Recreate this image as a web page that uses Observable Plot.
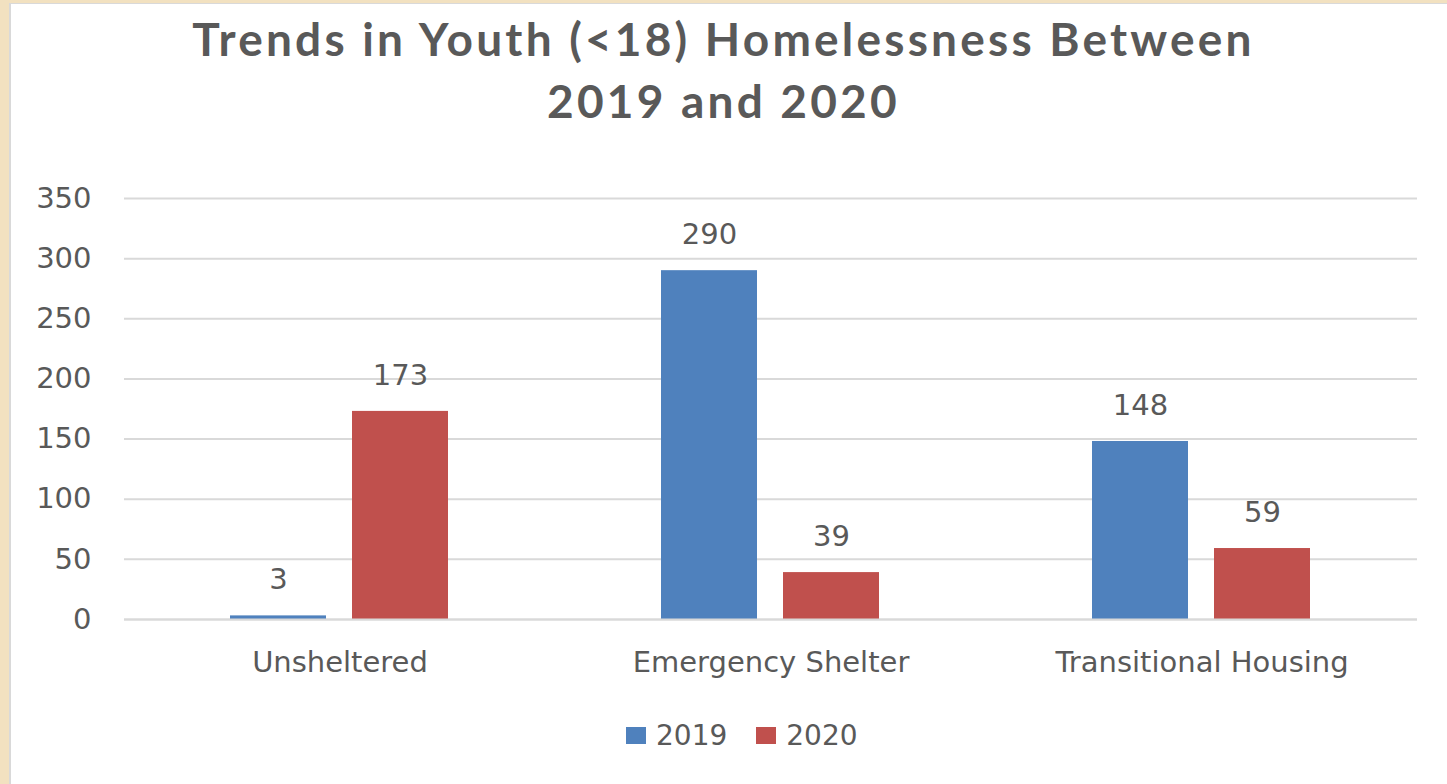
<!DOCTYPE html>
<html>
<head>
<meta charset="utf-8">
<script src="https://cdn.jsdelivr.net/npm/d3@7"></script>
<script src="https://cdn.jsdelivr.net/npm/@observablehq/plot@0.6"></script>
<style>
  html, body { margin: 0; padding: 0; width: 1447px; height: 784px; overflow: hidden; background: #f2e1c0; }
  #panel { position: absolute; left: 9px; top: 3px; width: 1438px; height: 781px; background: #fff;
           border-left: 2px solid #d9d9d9; border-top: 1px solid #d9d9d9; box-sizing: border-box; }
  #title { position: absolute; left: 0; top: 0; width: 1447px; text-align: center;
           font-family: Lato, "Open Sans", sans-serif; font-weight: 700; font-size: 46px; line-height: 62px;
           letter-spacing: 3.2px; color: #595959; padding-top: 8px; }
  #chart { position: absolute; left: 0; top: 150px; }
  #legend { position: absolute; top: 716px; left: 626px; height: 38px; display: flex; align-items: center;
            font-family: "DejaVu Sans", sans-serif; font-size: 28px; color: #595959; }
  .sw { display: inline-block; width: 20px; height: 17px; margin-right: 10px; }
  .item { display: flex; align-items: center; margin-right: 29px; }
</style>
</head>
<body>
<div id="panel"></div>
<div id="title"></div>
<div id="chart"></div>
<div id="legend"></div>
<script>
const titleLines = ["Trends in Youth (<18) Homelessness Between", "2019 and 2020"];
const categories = ["Unsheltered", "Emergency Shelter", "Transitional Housing"];
const years = ["2019", "2020"];
const values2019 = [3, 290, 148];
const values2020 = [173, 39, 59];
const colors = ["#4f81bd", "#c0504d"];
const yTicks = [0, 50, 100, 150, 200, 250, 300, 350];

const data = categories.flatMap((c, i) => [
  {category: c, year: years[0], value: values2019[i]},
  {category: c, year: years[1], value: values2020[i]}
]);

const titleEl = document.getElementById("title");
titleLines.forEach((t, i) => {
  if (i) titleEl.appendChild(document.createElement("br"));
  titleEl.appendChild(document.createTextNode(t));
});

const plot = Plot.plot({
  width: 1447,
  height: 560,
  marginLeft: 123,
  marginRight: 29,
  marginTop: 48,
  marginBottom: 91,
  style: {fontFamily: "DejaVu Sans, sans-serif", fontSize: "29px", color: "#595959", background: "transparent", overflow: "visible"},
  fx: {domain: categories, padding: 0, label: null},
  x: {domain: years, paddingInner: 0.211, paddingOuter: 0.86, axis: null},
  y: {domain: [0, 350], label: null},
  color: {domain: years, range: colors},
  marks: [
    Plot.gridY(yTicks, {stroke: "#d9d9d9", strokeOpacity: 1, strokeWidth: 2}),
    Plot.axisY(yTicks, {tickSize: 0, tickPadding: 33, label: null, fill: "#595959"}),
    Plot.axisFx({anchor: "bottom", tickSize: 0, tickPadding: 32, label: null, fill: "#595959"}),
    Plot.barY(data, {fx: "category", x: "year", y: "value", fill: "year"}),
    Plot.ruleY([0], {stroke: "#d9d9d9", strokeWidth: 2}),
    Plot.text(data, {fx: "category", x: "year", y: "value", text: d => String(d.value), dy: -36, fill: "#595959"})
  ]
});
document.getElementById("chart").appendChild(plot);

const legend = document.getElementById("legend");
years.forEach((y, i) => {
  const item = document.createElement("div");
  item.className = "item";
  const sw = document.createElement("span");
  sw.className = "sw";
  sw.style.background = colors[i];
  item.appendChild(sw);
  item.appendChild(document.createTextNode(y));
  legend.appendChild(item);
});
</script>
</body>
</html>
